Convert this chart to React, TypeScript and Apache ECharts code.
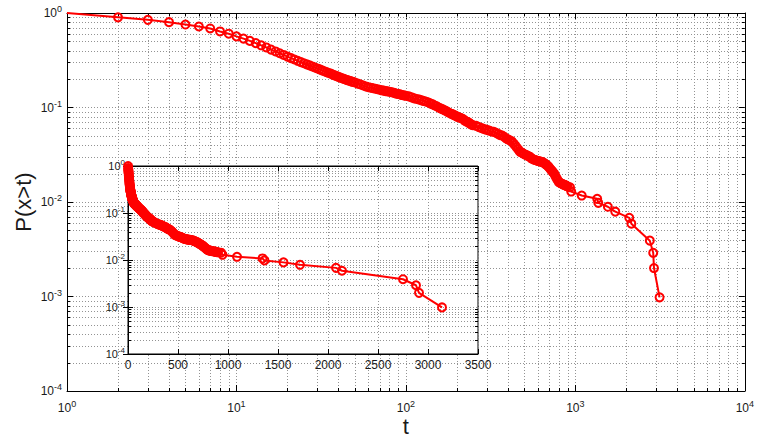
import React, { useEffect, useRef } from "react";
import * as echarts from "echarts";

// Duration t (samples)
const tValues: number[] = [
  1, 2, 3, 4, 5, 6, 7, 8, 9, 10, 11, 12, 13, 14, 15, 16, 17, 18, 19, 20,
  21, 22, 23, 24, 25, 26, 27, 28, 29, 30, 31, 32, 33, 34, 35, 36, 37, 38, 39, 40,
  41, 42, 43, 44, 45, 46, 47, 48, 49, 50,
  52, 54, 56, 58, 60, 62, 64, 66, 68, 70, 72, 74, 76, 78, 80, 82, 84, 86, 88, 90, 92, 94, 96, 98, 100,
  104, 108, 112, 116, 120, 124, 128, 132, 136, 140, 144, 148, 152, 156, 160, 164, 168, 172, 176, 180,
  184, 188, 192, 196, 200, 204, 208, 212, 216, 220, 224, 228, 232, 236, 240, 244, 248,
  260, 270, 280, 290, 300, 310, 320, 330, 340, 350, 360, 370, 380, 390, 400, 410, 420, 430, 440, 450,
  460, 470, 480, 490, 500, 510, 520, 530, 540, 550, 560, 570, 580, 590, 600, 610, 620, 630, 640, 650,
  660, 670, 680, 690, 700, 710, 720, 730, 740, 750, 760, 770, 780, 790, 800, 810, 820, 830, 840, 850,
  860, 870, 880, 890, 900,
  930, 945, 1090, 1345, 1365, 1555, 1720, 2080, 2140, 2750, 2880, 2910, 3140,
];

// P(x>t)
const pValues: number[] = [
  1, 0.9, 0.846, 0.8, 0.755, 0.72, 0.686, 0.638, 0.604, 0.566, 0.536, 0.507, 0.48, 0.455, 0.432, 0.41, 0.392, 0.375, 0.36, 0.345,
  0.333, 0.322, 0.312, 0.302, 0.294, 0.286, 0.279, 0.272, 0.265, 0.259, 0.253, 0.247, 0.242, 0.237, 0.232, 0.228, 0.223, 0.219, 0.215, 0.211,
  0.207, 0.204, 0.201, 0.198, 0.195, 0.193, 0.19, 0.188, 0.186, 0.184,
  0.179, 0.175, 0.171, 0.167, 0.164, 0.162, 0.16, 0.158, 0.156, 0.154, 0.152, 0.151, 0.149, 0.148, 0.147, 0.145, 0.144, 0.142, 0.14, 0.139, 0.138, 0.136, 0.135, 0.134, 0.133,
  0.131, 0.128, 0.125, 0.123, 0.121, 0.119, 0.117, 0.115, 0.113, 0.11, 0.108, 0.105, 0.103, 0.1, 0.098, 0.096, 0.094, 0.092, 0.09, 0.088,
  0.086, 0.085, 0.083, 0.082, 0.08, 0.079, 0.078, 0.077, 0.076, 0.074, 0.072, 0.071, 0.07, 0.069, 0.067, 0.066, 0.065,
  0.064, 0.062, 0.0605, 0.059, 0.058, 0.057, 0.0558, 0.0552, 0.054, 0.0525, 0.051, 0.0505, 0.049, 0.047, 0.046, 0.045, 0.044, 0.042, 0.04, 0.038,
  0.036, 0.034, 0.0335, 0.0328, 0.032, 0.0315, 0.031, 0.0305, 0.03, 0.029, 0.0285, 0.028, 0.0278, 0.0275, 0.0272, 0.027, 0.0268, 0.0266, 0.0264, 0.026,
  0.0255, 0.025, 0.0245, 0.024, 0.0232, 0.0225, 0.0218, 0.0212, 0.0205, 0.02, 0.019, 0.0182, 0.0175, 0.0168, 0.0162, 0.016, 0.0158, 0.0156, 0.0155, 0.0153,
  0.0152, 0.0151, 0.0149, 0.0147, 0.0146,
  0.0143, 0.0129, 0.0117, 0.0108, 0.0098, 0.0089, 0.0079, 0.0068, 0.0059, 0.0039, 0.0029, 0.002, 0.00098,
];

// Axis ranges and ticks
const mainXRange = [1, 10000];
const mainYRange = [0.0001, 1];
const insetXRange = [0, 3500];
const insetXInterval = 500;
const minorMultipliers = [2, 3, 4, 5, 6, 7, 8, 9];
const mainXDecades = [1, 10, 100, 1000];
const mainYDecades = [0.0001, 0.001, 0.01, 0.1];
const insetYDecades = [0.0001, 0.001, 0.01, 0.1];

const xLabel = "t";
const yLabel = "P(x>t)";

const FONT = "'Liberation Sans', Arial, Helvetica, sans-serif";
const RED = "#ff0000";
const GRID = "#939393";
const INK = "#1a1a1a";

function minorValues(decades: number[]): number[] {
  const out: number[] = [];
  decades.forEach((d) => minorMultipliers.forEach((m) => out.push(+(d * m).toPrecision(6))));
  return out;
}

function powLabel(fs: number, sup: number, raise: number) {
  return {
    formatter: (v: number) => `{b|10}{s|${Math.round(Math.log10(v))}}`,
    rich: {
      b: { fontSize: fs, color: INK, fontFamily: FONT },
      s: { fontSize: sup, color: INK, fontFamily: FONT, padding: [0, 0, raise, 0] },
    },
  };
}

function minorRender(dir: "x" | "y", tickLen: number) {
  return (params: any, api: any) => {
    const cs = params.coordSys;
    const p = api.coord([api.value(0), api.value(1)]);
    const gStyle = { stroke: GRID, lineWidth: 1, lineDash: [1, 2], fill: null };
    const tStyle = { stroke: "#000", lineWidth: 1, fill: null };
    if (dir === "x") {
      const x = Math.round(p[0]) + 0.5;
      const top = cs.y;
      const bot = cs.y + cs.height;
      return {
        type: "group",
        children: [
          { type: "line", shape: { x1: x, y1: top, x2: x, y2: bot }, style: gStyle },
          { type: "line", shape: { x1: x, y1: bot, x2: x, y2: bot - tickLen }, style: tStyle },
          { type: "line", shape: { x1: x, y1: top, x2: x, y2: top + tickLen }, style: tStyle },
        ],
      };
    }
    const y = Math.round(p[1]) + 0.5;
    const l = cs.x;
    const r = cs.x + cs.width;
    return {
      type: "group",
      children: [
        { type: "line", shape: { x1: l, y1: y, x2: r, y2: y }, style: gStyle },
        { type: "line", shape: { x1: l, y1: y, x2: l + tickLen, y2: y }, style: tStyle },
        { type: "line", shape: { x1: r, y1: y, x2: r - tickLen, y2: y }, style: tStyle },
      ],
    };
  };
}

export default function App() {
  const ref = useRef<HTMLDivElement>(null);

  useEffect(() => {
    if (!ref.current) return;
    const chart = echarts.init(ref.current, undefined, { renderer: "svg" });

    const pairs = tValues.map((t, i) => [t, pValues[i]]);
    const mainData = pairs.map((p, i) =>
      i === 0 ? { value: p, symbol: "none" } : { value: p }
    );

    const axisLine = { show: true, lineStyle: { color: "#000", width: 1 } };
    const tickIn = (len: number) => ({ show: true, inside: true, length: len, lineStyle: { color: "#000" } });
    const split = { show: true, lineStyle: { color: GRID, type: [1, 2] as any, width: 1 } };

    const lineSeries = (xi: number, yi: number, data: any[], z: number) => ({
      type: "line",
      xAxisIndex: xi,
      yAxisIndex: yi,
      data,
      z,
      symbol: "circle",
      symbolSize: 8,
      showSymbol: true,
      showAllSymbol: true,
      lineStyle: { color: RED, width: 2 },
      itemStyle: { color: "rgba(0,0,0,0)", borderColor: RED, borderWidth: 2 },
      clip: true,
      silent: true,
    });

    chart.setOption({
      animation: false,
      backgroundColor: "#fff",
      textStyle: { fontFamily: FONT },
      grid: [
        { left: 67, top: 13, right: 11, bottom: 45, show: false },
        {
          left: 128, top: 166, width: 350, height: 188, show: true,
          backgroundColor: "#fff", borderColor: "#000", borderWidth: 1, z: 5,
        },
      ],
      xAxis: [
        {
          type: "log", gridIndex: 0, min: mainXRange[0], max: mainXRange[1], logBase: 10, splitNumber: 4,
          axisLine, axisTick: tickIn(6), splitLine: split,
          axisLabel: { ...powLabel(12, 9, 8), margin: 8 },
          name: xLabel, nameLocation: "middle", nameGap: 24, nameMoveOverlap: false,
          nameTextStyle: { fontSize: 22, color: INK, fontFamily: FONT },
        },
        {
          type: "log", gridIndex: 0, position: "top", min: mainXRange[0], max: mainXRange[1], logBase: 10, splitNumber: 4,
          axisLine, axisTick: tickIn(6), splitLine: { show: false }, axisLabel: { show: false },
        },
        {
          type: "value", gridIndex: 1, min: insetXRange[0], max: insetXRange[1], interval: insetXInterval, z: 6,
          axisLine, axisTick: tickIn(5), splitLine: split,
          axisLabel: { fontSize: 12, color: INK, margin: 5, fontFamily: FONT, formatter: (v: number) => String(v) },
        },
        {
          type: "value", gridIndex: 1, position: "top", min: insetXRange[0], max: insetXRange[1], interval: insetXInterval, z: 6,
          axisLine, axisTick: tickIn(5), splitLine: { show: false }, axisLabel: { show: false },
        },
      ],
      yAxis: [
        {
          type: "log", gridIndex: 0, min: mainYRange[0], max: mainYRange[1], logBase: 10, splitNumber: 4,
          axisLine, axisTick: tickIn(6), splitLine: split,
          axisLabel: { ...powLabel(12, 9, 8), margin: 5 },
          name: yLabel, nameLocation: "middle", nameGap: 33, nameRotate: 90, nameMoveOverlap: false,
          nameTextStyle: { fontSize: 22, color: INK, fontFamily: FONT },
        },
        {
          type: "log", gridIndex: 0, position: "right", min: mainYRange[0], max: mainYRange[1], logBase: 10, splitNumber: 4,
          axisLine, axisTick: tickIn(6), splitLine: { show: false }, axisLabel: { show: false },
        },
        {
          type: "log", gridIndex: 1, min: mainYRange[0], max: mainYRange[1], logBase: 10, splitNumber: 4, z: 6,
          axisLine, axisTick: tickIn(5), splitLine: split,
          axisLabel: { ...powLabel(11, 8, 7), margin: 3 },
        },
        {
          type: "log", gridIndex: 1, position: "right", min: mainYRange[0], max: mainYRange[1], logBase: 10, splitNumber: 4, z: 6,
          axisLine, axisTick: tickIn(5), splitLine: { show: false }, axisLabel: { show: false },
        },
      ],
      series: [
        {
          type: "custom", xAxisIndex: 0, yAxisIndex: 0, z: 1, silent: true, clip: false,
          renderItem: minorRender("x", 3),
          data: minorValues(mainXDecades).map((v) => [v, mainYRange[1]]),
        },
        {
          type: "custom", xAxisIndex: 0, yAxisIndex: 0, z: 1, silent: true, clip: false,
          renderItem: minorRender("y", 3),
          data: minorValues(mainYDecades).map((v) => [mainXRange[0], v]),
        },
        lineSeries(0, 0, mainData, 3),
        {
          type: "custom", xAxisIndex: 2, yAxisIndex: 2, z: 6, silent: true, clip: false,
          renderItem: minorRender("y", 3),
          data: minorValues(insetYDecades).map((v) => [insetXRange[0], v]),
        },
        lineSeries(2, 2, pairs, 8),
      ],
    });

    return () => chart.dispose();
  }, []);

  return (
    <div
      ref={ref}
      style={{ position: "absolute", left: 0, top: 0, width: 757, height: 442 }}
    />
  );
}
